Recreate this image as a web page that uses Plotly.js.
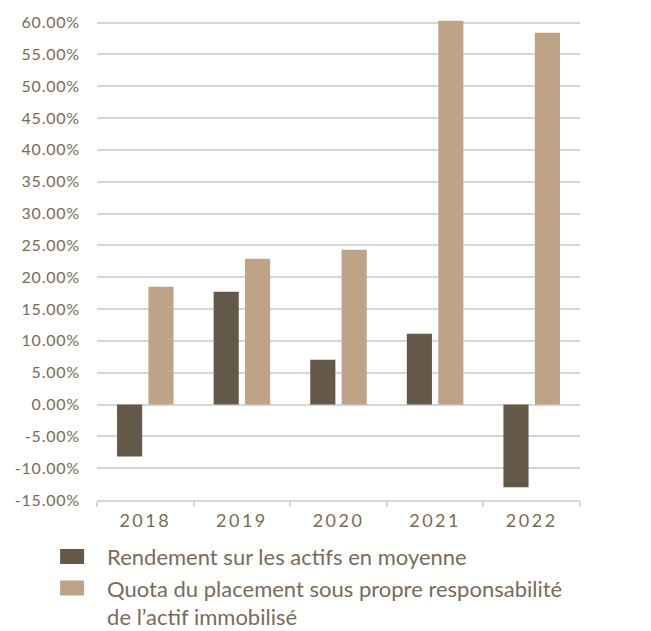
<!DOCTYPE html>
<html>
<head>
<meta charset="utf-8">
<script src="https://cdn.plot.ly/plotly-3.0.1.min.js"></script>
<style>
html,body{margin:0;padding:0;background:#fff;}
#chart{width:651px;height:631px;}
.xtick text{letter-spacing:2.5px;}
.ytick text{letter-spacing:0.8px;}
.legendpoints path{transform:translate(35px,0px) scale(2,1.25);}
</style>
</head>
<body>
<div id="chart"></div>
<script>
const years = ['2018', '2019', '2020', '2021', '2022'];
const rendement = [-8.15, 17.7, 7.05, 11.1, -13.0];
const quota = [18.5, 22.9, 24.3, 60.3, 58.4];
const seriesNames = ['Rendement sur les actifs en moyenne', 'Quota du placement sous propre responsabilité<br>de l’actif immobilisé'];
const yTickVals = [-15, -10, -5, 0, 5, 10, 15, 20, 25, 30, 35, 40, 45, 50, 55, 60];
const yTickText = ['-15.00%', '-10.00%', '-5.00%', '0.00%', '5.00%', '10.00%', '15.00%', '20.00%', '25.00%', '30.00%', '35.00%', '40.00%', '45.00%', '50.00%', '55.00%', '60.00%'];

const textColor = '#7a6b58';
const gridColor = '#d6d6d6';
const fontFam = 'Lato, "Open Sans", sans-serif';

const traces = [
  {type: 'bar', name: seriesNames[0], x: years, y: rendement, marker: {color: '#645848'}},
  {type: 'bar', name: seriesNames[1], x: years, y: quota, marker: {color: '#bfa386'}}
];

const layout = {
  width: 651, height: 631,
  margin: {l: 97, r: 71, t: 19.5, b: 131, autoexpand: false},
  paper_bgcolor: '#fff', plot_bgcolor: '#fff',
  font: {family: fontFam, color: textColor},
  barmode: 'group', bargap: 0.35, bargroupgap: 0.2,
  showlegend: true,
  legend: {
    orientation: 'v', xref: 'container', yref: 'container',
    x: 0.057, xanchor: 'left', y: 0.151, yanchor: 'top',
    font: {size: 22, color: textColor, family: fontFam},
    valign: 'top', tracegroupgap: 4, itemwidth: 60, bgcolor: 'rgba(0,0,0,0)'
  },
  xaxis: {
    type: 'category',
    showgrid: false, zeroline: false,
    showline: true, linecolor: gridColor, linewidth: 2,
    ticks: 'outside', tickson: 'boundaries', ticklen: 5, tickwidth: 2, tickcolor: gridColor,
    tickfont: {size: 18, color: textColor, family: fontFam},
    ticklabelstandoff: 3
  },
  yaxis: {
    range: [-15, 60.4],
    tickvals: yTickVals, ticktext: yTickText,
    showgrid: true, gridcolor: gridColor, gridwidth: 2,
    zeroline: true, zerolinecolor: gridColor, zerolinewidth: 2,
    showline: false, ticks: '',
    tickfont: {size: 16, color: textColor, family: fontFam},
    ticklabelstandoff: 16
  }
};

Plotly.newPlot('chart', traces, layout, {displayModeBar: false, staticPlot: true});
</script>
</body>
</html>
